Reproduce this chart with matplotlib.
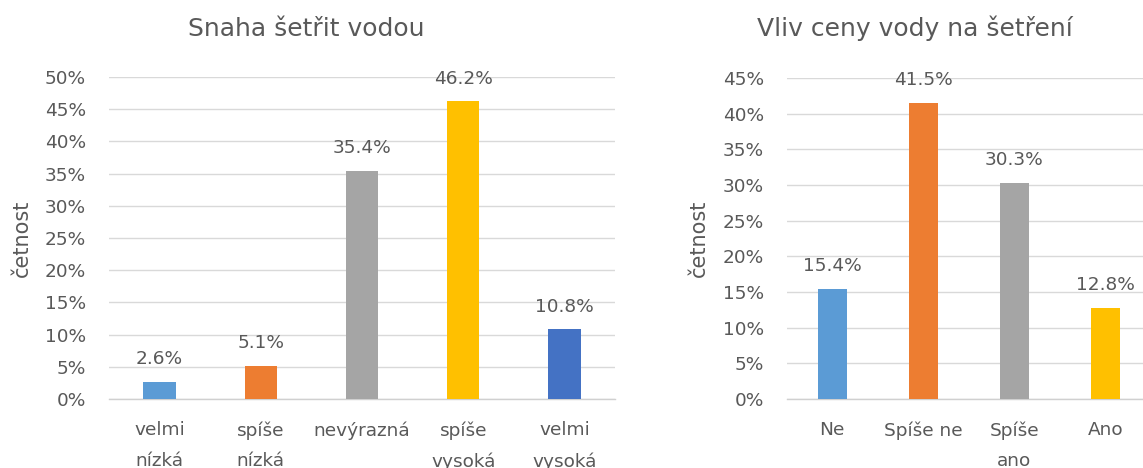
import matplotlib
matplotlib.use("Agg")
import matplotlib.pyplot as plt
from matplotlib.ticker import PercentFormatter, MultipleLocator

# ----- data ----- #
left_title = "Snaha šetřit vodou"
left_cats = ["velmi\nnízká", "spíše\nnízká", "nevýrazná", "spíše\nvysoká", "velmi\nvysoká"]
left_vals = [0.026, 0.051, 0.354, 0.462, 0.108]

right_title = "Vliv ceny vody na šetření"
right_cats = ["Ne", "Spíše ne", "Spíše\nano", "Ano"]
right_vals = [0.154, 0.415, 0.303, 0.128]

ylabel = "četnost"
office = ["#5B9BD5", "#ED7D31", "#A5A5A5", "#FFC000", "#4472C4"]
text_c = "#595959"

W, H = 1143, 468
fig = plt.figure(figsize=(W / 100, H / 100), dpi=100)


def draw(rect, cats, vals, ymax, title, title_x, ylabel_x):
    ax = fig.add_axes([rect[0] / W, (H - rect[3]) / H,
                       (rect[2] - rect[0]) / W, (rect[3] - rect[1]) / H])
    xs = range(len(cats))
    ax.bar(xs, vals, width=0.32, color=office[:len(vals)], zorder=3)
    for x, v in zip(xs, vals):
        ax.annotate(f"{v * 100:.1f}%", (x, v), xytext=(0, 10), textcoords="offset points",
                    ha="center", va="bottom", fontsize=13.3, color=text_c)
    ax.set_xlim(-0.5, len(cats) - 0.5)
    ax.set_ylim(0, ymax)
    ax.yaxis.set_major_locator(MultipleLocator(0.05))
    ax.yaxis.set_major_formatter(PercentFormatter(xmax=1, decimals=0))
    ax.set_xticks(list(xs))
    ax.set_xticklabels(cats, multialignment="center", linespacing=1.9)
    ax.tick_params(axis="both", length=0, labelsize=13.3, labelcolor=text_c)
    ax.tick_params(axis="x", pad=16)
    ax.tick_params(axis="y", pad=16.5)
    ax.grid(axis="y", color="#D9D9D9", linewidth=1.0, zorder=0)
    for s in ["top", "right", "left"]:
        ax.spines[s].set_visible(False)
    ax.spines["bottom"].set_color("#D0D0D0")
    ax.spines["bottom"].set_linewidth(1.0)
    ax.set_ylabel(ylabel, fontsize=15, color=text_c, va="center")
    ax.yaxis.set_label_coords((ylabel_x - rect[0]) / (rect[2] - rect[0]), 0.5)
    fig.text(title_x / W, (H - 36) / H, title, ha="center", va="baseline",
             fontsize=18, color=text_c)
    return ax


draw((109, 77, 615, 399), left_cats, left_vals, 0.5, left_title, 306.5, 22)
draw((786.7, 78, 1150.7, 399), right_cats, right_vals, 0.45, right_title, 915, 699)

fig.savefig("out.png", dpi=100)
